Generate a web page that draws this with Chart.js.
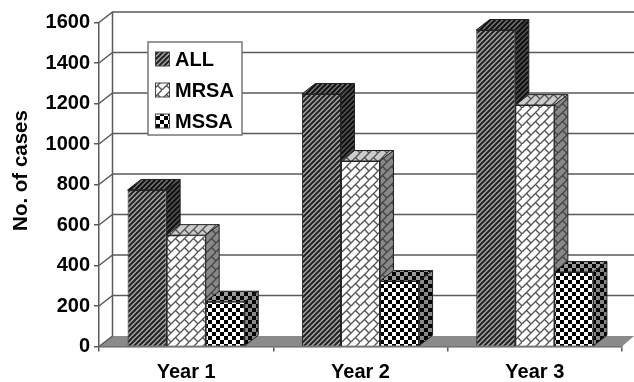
<!DOCTYPE html>
<html>
<head>
<meta charset="utf-8">
<title>No. of cases</title>
<script src="https://cdn.jsdelivr.net/npm/chart.js@4"></script>
<style>
    html, body { margin: 0; background: #fff; }
    canvas { display: block; filter: blur(0.4px); }
</style>
</head>
<body>
<canvas id="myChart" width="634" height="382"></canvas>
<script>
const years = ["Year 1", "Year 2", "Year 3"];
const seriesNames = ["ALL", "MRSA", "MSSA"];
const allCases = [773, 1247, 1563];
const mrsaCases = [550, 916, 1192];
const mssaCases = [221, 323, 368];
const yTicks = [0, 200, 400, 600, 800, 1000, 1200, 1400, 1600];
const yTitle = "No. of cases";

const fontName = "'Liberation Sans', Arial, sans-serif";
const depthX = 13.5;
const depthY = 10.5;
const lineColor = "#5a5a5a";

// fill patterns, one tile per face
function tile(size, draw) {
    const c = document.createElement("canvas");
    c.width = size;
    c.height = size;
    draw(c.getContext("2d"));
    return c.getContext("2d").createPattern(c, "repeat");
}

function stripes(bg, fg) {
    return tile(5, (g) => {
        g.fillStyle = bg;
        g.fillRect(0, 0, 5, 5);
        g.strokeStyle = fg;
        g.lineWidth = 2;
        for (let i = 0; i <= 10; i += 5) {
            g.beginPath();
            g.moveTo(i - 6, 6);
            g.lineTo(i + 1, -1);
            g.stroke();
        }
    });
}

function bricks(bg, fg) {
    const p = 9;
    return tile(p * 2, (g) => {
        g.fillStyle = bg;
        g.fillRect(0, 0, p * 2, p * 2);
        g.strokeStyle = fg;
        g.lineWidth = 1.4;
        g.beginPath();
        g.moveTo(0, p); g.lineTo(p, 0);
        g.moveTo(0, p * 2); g.lineTo(p * 2, 0);
        g.moveTo(p, p * 2); g.lineTo(p * 2, p);
        g.moveTo(p / 2, p / 2); g.lineTo(p, p);
        g.moveTo(p * 1.5, p * 1.5); g.lineTo(p * 2, p * 2);
        g.moveTo(p * 1.5, p / 2); g.lineTo(p * 2, p);
        g.moveTo(p / 2, p * 1.5); g.lineTo(p, p * 2);
        g.stroke();
    });
}

function checks(bg, fg) {
    return tile(8, (g) => {
        g.fillStyle = bg;
        g.fillRect(0, 0, 8, 8);
        g.fillStyle = fg;
        g.fillRect(0, 0, 4, 4);
        g.fillRect(4, 4, 4, 4);
    });
}

const fronts = [stripes("#a8a8a8", "#222"), bricks("#fff", "#555"), checks("#fff", "#000")];
const tops = [stripes("#777", "#111"), bricks("#ccc", "#555"), checks("#999", "#000")];
const sides = [stripes("#555", "#111"), bricks("#888", "#444"), checks("#888", "#000")];

const wall3d = {
    id: "wall3d",
    beforeDatasetsDraw(chart) {
        const g = chart.ctx;
        const a = chart.chartArea;
        const y = chart.scales.y;
        const rightEnd = a.right + 12;
        g.save();
        // floor
        g.fillStyle = "#8a8a8a";
        g.strokeStyle = lineColor;
        g.lineWidth = 1;
        g.beginPath();
        g.moveTo(a.left, a.bottom);
        g.lineTo(a.left + depthX, a.bottom - depthY);
        g.lineTo(rightEnd, a.bottom - depthY);
        g.lineTo(a.right, a.bottom);
        g.closePath();
        g.fill();
        // back wall and slanted grid lines
        g.lineWidth = 1.5;
        g.beginPath();
        g.moveTo(a.left + depthX, a.bottom - depthY);
        g.lineTo(a.left + depthX, y.getPixelForValue(1600) - depthY);
        yTicks.forEach((v) => {
            const py = y.getPixelForValue(v);
            g.moveTo(a.left, py);
            g.lineTo(a.left + depthX, py - depthY);
            if (v > 0) g.lineTo(rightEnd, py - depthY);
        });
        g.stroke();

        // depth faces of the bars, the fronts come from Chart.js
        g.lineWidth = 1;
        g.strokeStyle = "#222";
        years.forEach((_, i) => {
            chart.data.datasets.forEach((ds, d) => {
                const bar = chart.getDatasetMeta(d).data[i];
                const half = bar.width / 2;
                const l = bar.x - half;
                const r = bar.x + half;
                g.fillStyle = tops[d];
                g.beginPath();
                g.moveTo(l, bar.y);
                g.lineTo(l + depthX, bar.y - depthY);
                g.lineTo(r + depthX, bar.y - depthY);
                g.lineTo(r, bar.y);
                g.closePath();
                g.fill();
                g.stroke();
                g.fillStyle = sides[d];
                g.beginPath();
                g.moveTo(r, bar.y);
                g.lineTo(r + depthX, bar.y - depthY);
                g.lineTo(r + depthX, bar.base - depthY);
                g.lineTo(r, bar.base);
                g.closePath();
                g.fill();
                g.stroke();
            });
        });
        g.restore();
    },
    afterDraw(chart) {
        const g = chart.ctx;
        const rows = [59, 90, 121];
        g.save();
        // legend box sits over the wall
        g.fillStyle = "#fff";
        g.strokeStyle = "#777";
        g.lineWidth = 1.5;
        g.fillRect(148, 42, 94, 93);
        g.strokeRect(148, 42, 94, 93);
        g.textBaseline = "middle";
        g.textAlign = "left";
        g.font = "bold 20px " + fontName;
        chart.data.datasets.forEach((ds, d) => {
            g.fillStyle = fronts[d];
            g.strokeStyle = "#444";
            g.lineWidth = 1;
            g.fillRect(155.5, rows[d] - 7, 14, 14);
            g.strokeRect(155.5, rows[d] - 7, 14, 14);
            g.fillStyle = "#000";
            g.fillText(ds.label, 175, rows[d] + 1);
        });
        // axis title is off centre in the original, so not the scale's own
        g.translate(26.5, 170.5);
        g.rotate(-Math.PI / 2);
        g.textAlign = "center";
        g.textBaseline = "alphabetic";
        g.font = "bold 20.5px " + fontName;
        g.fillText(yTitle, 0, 0);
        g.restore();
    }
};

const ctx = document.getElementById("myChart");

new Chart(ctx, {
    type: "bar",
    data: {
        labels: years,
        datasets: [
            { label: seriesNames[0], data: allCases, backgroundColor: fronts[0] },
            { label: seriesNames[1], data: mrsaCases, backgroundColor: fronts[1] },
            { label: seriesNames[2], data: mssaCases, backgroundColor: fronts[2] }
        ]
    },
    options: {
        responsive: false,
        animation: false,
        layout: { padding: { top: 22.5, right: 12 } },
        datasets: {
            bar: {
                barPercentage: 1,
                categoryPercentage: 0.672,
                borderWidth: 1,
                borderColor: "#222"
            }
        },
        plugins: {
            legend: { display: false },
            tooltip: { enabled: false }
        },
        scales: {
            x: {
                grid: { drawOnChartArea: false, color: lineColor, lineWidth: 1.5, tickLength: 5 },
                border: { color: lineColor, width: 1.5 },
                ticks: { color: "#000", padding: 9, font: { family: fontName, size: 20, weight: "bold" } },
                afterFit(scale) { scale.height = 35.5; }
            },
            y: {
                min: 0,
                max: 1600,
                grid: { drawOnChartArea: false, color: lineColor, lineWidth: 1.5, tickLength: 5 },
                border: { color: lineColor, width: 1.5 },
                ticks: {
                    stepSize: 200,
                    color: "#000",
                    padding: 4,
                    font: { family: fontName, size: 20, weight: "bold" },
                    callback: (v) => String(v)
                },
                afterFit(scale) { scale.width = 99; }
            }
        }
    },
    plugins: [wall3d]
});
</script>
</body>
</html>
